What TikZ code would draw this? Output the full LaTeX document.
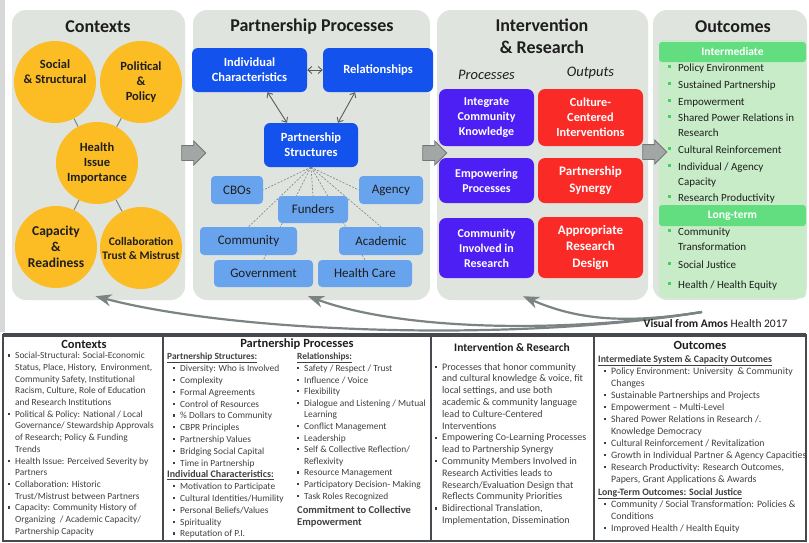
\documentclass[tikz,border=0pt]{standalone}
\usepackage{fontspec}
\setmainfont{Carlito}
\usepackage{xcolor}
\usetikzlibrary{calc}
\usetikzlibrary{positioning}
\usetikzlibrary{arrows.meta}
\usetikzlibrary{shapes.arrows}
\definecolor{custom-panel}{RGB}{224, 228, 223}
\definecolor{custom-strip}{RGB}{215, 217, 216}
\definecolor{custom-orange}{RGB}{251, 188, 36}
\definecolor{custom-blue}{RGB}{19, 82, 236}
\definecolor{custom-lightblue}{RGB}{104, 163, 238}
\definecolor{custom-purple}{RGB}{77, 31, 245}
\definecolor{custom-red}{RGB}{250, 42, 38}
\definecolor{custom-green}{RGB}{98, 222, 128}
\definecolor{custom-lightgreen}{RGB}{199, 236, 199}
\definecolor{custom-bullet}{RGB}{70, 205, 100}
\definecolor{custom-grey}{RGB}{124, 132, 131}
\definecolor{custom-text}{RGB}{30, 30, 30}
\definecolor{custom-arrowfill}{RGB}{162, 167, 165}
\definecolor{custom-arrowdraw}{RGB}{115, 120, 118}
\definecolor{custom-frame}{RGB}{70, 74, 78}

\pgfdeclarelayer{panels}
\pgfdeclarelayer{edges}
\pgfsetlayers{panels,edges,main}

\newcommand{\lbul}{\makebox[7pt][l]{\raisebox{2.2pt}{\rule{2.2pt}{2.2pt}}}}
\newcommand{\lcnt}{\hspace*{7pt}}
\newcommand{\obul}{\makebox[10pt][l]{\textcolor{custom-bullet}{\raisebox{4pt}{\rule{3pt}{3pt}}}}}
\newcommand{\ocnt}{\hspace*{10pt}}

\tikzset{
  panel/.style={fill=custom-panel, rounded corners=14pt, inner sep=0pt},
  greenarea/.style={fill=custom-lightgreen, rounded corners=4pt, inner sep=0pt},
  paneltitle/.style={font=\fontsize{18}{22}\selectfont\bfseries, text=custom-text, align=center},
  ctxcircle/.style={circle, fill=custom-orange, minimum size=82pt, inner sep=0pt, align=center,
    text=custom-text, font=\fontsize{12.5}{15}\selectfont\bfseries},
  ppbox/.style={fill=custom-blue, rounded corners=6pt, inner sep=0pt, align=center, text=white,
    font=\fontsize{12.5}{15}\selectfont\bfseries},
  membox/.style={fill=custom-lightblue, rounded corners=4pt, inner sep=0pt, text=custom-text,
    font=\fontsize{13}{15}\selectfont},
  procbox/.style={fill=custom-purple, rounded corners=7pt, inner sep=0pt, align=center, text=white,
    minimum width=95pt, font=\fontsize{12}{15}\selectfont\bfseries},
  outbox/.style={fill=custom-red, rounded corners=7pt, inner sep=0pt, align=center, text=white,
    minimum width=105pt, font=\fontsize{13}{16.5}\selectfont\bfseries},
  colhead/.style={font=\fontsize{14.5}{17}\selectfont\itshape, text=custom-text},
  ochead/.style={fill=custom-green, rounded corners=3pt, inner sep=0pt, text=white,
    minimum width=147pt, font=\fontsize{11.5}{14}\selectfont\bfseries},
  oclist/.style={anchor=north west, align=left, inner sep=0pt, text=custom-text,
    font=\fontsize{11}{15}\selectfont},
  biarrow/.style={{Straight Barb[length=4pt,width=7pt]}-{Straight Barb[length=4pt,width=7pt]},
    draw=custom-grey!70!black, line width=0.9pt},
  hubline/.style={draw=custom-grey, line width=0.6pt, dash pattern=on 2pt off 1.5pt},
  ctxline/.style={draw=custom-grey, line width=1pt},
  blockarrow/.style={single arrow, fill=custom-arrowfill, draw=custom-arrowdraw, line width=0.8pt,
    inner xsep=0pt, inner ysep=7pt, minimum height=24pt, single arrow head extend=4.5pt},
  fbarrow/.style={draw=custom-grey, line width=2.2pt,
    -{Stealth[length=16pt,width=12pt,inset=5pt]}},
  bottitle/.style={font=\fontsize{12.5}{14}\selectfont\bfseries, text=custom-text},
  botlist/.style={anchor=north west, align=left, inner sep=0pt, text=custom-text!85!white,
    font=\fontsize{9.4}{11.7}\selectfont}
}

\begin{document}
\begin{tikzpicture}[x=1pt,y=-1pt]
\useasboundingbox (0,0) rectangle (809,542);

% panels
\begin{pgfonlayer}{panels}
\fill[white] (0,0) rectangle (809,542);
\fill[custom-strip] (0,0) rectangle (5,332);
\node[panel, minimum width=173pt, minimum height=290pt] (ctxpanel) at (98.5,155) {};
\node[panel, minimum width=237pt, minimum height=290pt] (pppanel) at (311.5,155) {};
\node[panel, minimum width=211pt, minimum height=290pt] (irpanel) at (542.5,155) {};
\node[panel, minimum width=154pt, minimum height=290pt] (ocpanel) at (730,155) {};
\node[greenarea, minimum width=147pt, minimum height=258pt] (ocarea) at (732.5,169) {};
\end{pgfonlayer}

\node[paneltitle] (ctxtitle) at (98,27) {Contexts};
\node[paneltitle] (pptitle) at (312,27) {Partnership Processes};
\node[paneltitle] (irtitle) at (542,36) {Intervention\\\& Research};
\node[paneltitle] (octitle) at (733,27) {Outcomes};

% contexts
\node[ctxcircle] (ss) at (55,82) {Social\\\& Structural\\[6pt]};
\node[ctxcircle] (pp) at (141,82) {Political\\\&\\Policy};
\node[ctxcircle] (hi) at (97,163) {Health\\Issue\\Importance};
\node[ctxcircle, font=\fontsize{13.5}{16}\selectfont\bfseries] (cr) at (56,247) {Capacity\\\&\\Readiness};
\node[ctxcircle, font=\fontsize{11.5}{14}\selectfont\bfseries] (ct) at (141,248) {Collaboration\\Trust \& Mistrust};
\begin{pgfonlayer}{edges}
\foreach \c in {ss,pp,cr,ct}
  \draw[ctxline] (hi) -- (\c);
\end{pgfonlayer}

\node[blockarrow] (arr1) at (190,153) {};
\node[blockarrow] (arr2) at (431,153) {};
\node[blockarrow] (arr3) at (651,152) {};

% partnership processes
\node[ppbox, minimum width=115pt, minimum height=44pt] (ic) at (249.5,70) {Individual\\Characteristics};
\node[ppbox, minimum width=110pt, minimum height=44pt] (rel) at (378,70) {Relationships};
\node[ppbox, minimum width=94pt, minimum height=44pt] (ps) at (311,145) {Partnership\\Structures};
\draw[biarrow] (ic.east) -- (rel.west);
\draw[biarrow] ([xshift=18pt]ic.south) -- ([xshift=-24pt]ps.north);
\draw[biarrow] ([xshift=-23pt]rel.south) -- ([xshift=27pt]ps.north);

\node[membox, minimum width=52pt, minimum height=28pt] (cbo) at (237,190) {CBOs};
\node[membox, minimum width=64pt, minimum height=28pt] (agency) at (391,190) {Agency};
\node[membox, minimum width=70pt, minimum height=27pt] (funders) at (313,209.5) {Funders};
\node[membox, minimum width=97pt, minimum height=28pt] (community) at (248.5,241) {Community};
\node[membox, minimum width=84pt, minimum height=28pt] (academic) at (381,241) {Academic};
\node[membox, minimum width=99pt, minimum height=27pt] (government) at (263.5,273.5) {Government};
\node[membox, minimum width=94pt, minimum height=27pt] (healthcare) at (365,273.5) {Health Care};
\begin{pgfonlayer}{edges}
\draw[hubline] (ps.south) -- (cbo.east);
\draw[hubline] (ps.south) -- (community.north);
\draw[hubline] (ps.south) -- (government.north);
\draw[hubline] (ps.south) -- (funders.north);
\draw[hubline] (ps.south) -- (healthcare.north);
\draw[hubline] (ps.south) -- (academic.north);
\draw[hubline] (ps.south) -- (agency.west);
\end{pgfonlayer}

% intervention and research
\node[procbox, minimum height=57pt] (p1) at (486.5,117.5) {Integrate\\Community\\Knowledge};
\node[procbox, minimum height=45pt] (p2) at (486.5,180.5) {Empowering\\Processes};
\node[procbox, minimum height=60pt] (p3) at (486.5,248) {Community\\Involved in\\Research};
\node[outbox, minimum height=57pt, font=\fontsize{12.3}{15}\selectfont\bfseries] (o1) at (590.5,117.5) {Culture-\\Centered\\Interventions};
\node[outbox, minimum height=45pt] (o2) at (590.5,180.5) {Partnership\\Synergy};
\node[outbox, minimum height=61pt] (o3) at (590.5,247.5) {Appropriate\\Research\\Design};
\node[colhead, above=6pt of p1] (proclabel) {Processes};
\node[colhead, above=6pt of o1] (outlabel) {Outputs};

% outcomes
\node[ochead, minimum height=20pt] (ocint) at (732.5,52) {Intermediate};
\node[oclist] (intlist) at (668,64) {\obul Policy Environment\\[2pt]
\obul Sustained Partnership\\[2pt]
\obul Empowerment\\[1pt]
\obul Shared Power Relations in\\
\ocnt Research\\[2pt]
\obul Cultural Reinforcement\\[2pt]
\obul Individual / Agency\\
\ocnt Capacity\\[1pt]
\obul Research Productivity};
\node[ochead, minimum height=21pt] (oclt) at (732.5,215.5) {Long-term};
\node[oclist] (ltlist) at (668,228) {\obul Community\\
\ocnt Transformation\\[3pt]
\obul Social Justice\\[5pt]
\obul Health / Health Equity};

% feedback
\coordinate (fb) at (702,312);
\draw[fbarrow] (fb) .. controls (520,342) and (240,334) .. ([xshift=-3pt,yshift=4pt]ctxpanel.south);
\draw[fbarrow] (fb) .. controls (560,334) and (400,330) .. ([xshift=-3.5pt,yshift=4pt]pppanel.south);
\draw[fbarrow] (fb) .. controls (625,324) and (578,320) .. ([xshift=-19.5pt,yshift=4pt]irpanel.south);
\node[anchor=east, font=\fontsize{11.5}{14}\selectfont, text=custom-text] (credit) at (791,323)
  {\textbf{Visual from Amos} Health 2017};

% key below
\draw[custom-frame, line width=1.5pt] (3,335) rectangle (806,541);
\draw[custom-frame, line width=3.5pt] (3,335) -- (806,335);
\foreach \x in {163,431,594}
  \draw[custom-frame, line width=2pt] (\x,337) -- (\x,541);

\node[bottitle] (ctxkey) at (84,344.5) {Contexts};
\node[bottitle] (ppkey) at (297,344.5) {Partnership Processes};
\node[bottitle, font=\fontsize{11.5}{13}\selectfont\bfseries] (irkey) at (512,347) {Intervention \& Research};
\node[bottitle] (ockey) at (700,345.5) {Outcomes};

\node[botlist] (ctxtext) at (8,352) {\lbul Social-Structural: Social-Economic\\
\lcnt Status, Place, History,\ \ Environment,\\
\lcnt Community Safety, Institutional\\
\lcnt Racism, Culture, Role of Education\\
\lcnt and Research Institutions\\
\lbul Political \& Policy: National / Local\\
\lcnt Governance/ Stewardship Approvals\\
\lcnt of Research; Policy \& Funding\\
\lcnt Trends\\
\lbul Health Issue: Perceived Severity by\\
\lcnt Partners\\
\lbul Collaboration: Historic\\
\lcnt Trust/Mistrust between Partners\\
\lbul Capacity: Community History of\\
\lcnt Organizing\ \ / Academic Capacity/\\
\lcnt Partnership Capacity};

\node[botlist, font=\fontsize{9.4}{11.8}\selectfont] (pstext) at (167,353) {\underline{\textbf{Partnership Structures:}}\\
\hspace*{6pt}\lbul Diversity: Who is Involved\\
\hspace*{6pt}\lbul Complexity\\
\hspace*{6pt}\lbul Formal Agreements\\
\hspace*{6pt}\lbul Control of Resources\\
\hspace*{6pt}\lbul \% Dollars to Community\\
\hspace*{6pt}\lbul CBPR Principles\\
\hspace*{6pt}\lbul Partnership Values\\
\hspace*{6pt}\lbul Bridging Social Capital\\
\hspace*{6pt}\lbul Time in Partnership\\
{\fontsize{10}{11.8}\selectfont\underline{\textbf{Individual Characteristics:}}}\\
\hspace*{6pt}\lbul Motivation to Participate\\
\hspace*{6pt}\lbul Cultural Identities/Humility\\
\hspace*{6pt}\lbul Personal Beliefs/Values\\
\hspace*{6pt}\lbul Spirituality\\
\hspace*{6pt}\lbul Reputation of P.I.};

\node[botlist, font=\fontsize{9.4}{11.6}\selectfont] (reltext) at (297,353) {\underline{\textbf{Relationships:}}\\
\lbul Safety / Respect / Trust\\
\lbul Influence / Voice\\
\lbul Flexibility\\
\lbul Dialogue and Listening / Mutual\\
\lcnt Learning\\
\lbul Conflict Management\\
\lbul Leadership\\
\lbul Self \& Collective Reflection/\\
\lcnt Reflexivity\\
\lbul Resource Management\\
\lbul Participatory Decision- Making\\
\lbul Task Roles Recognized\\[3pt]
{\fontsize{10.5}{12}\selectfont\bfseries Commitment to Collective}\\
{\fontsize{10.5}{12}\selectfont\bfseries Empowerment}};

\node[botlist, font=\fontsize{10}{11.8}\selectfont] (irtext) at (435,363) {\lbul Processes that honor community\\
\lcnt and cultural knowledge \& voice, fit\\
\lcnt local settings, and use both\\
\lcnt academic \& community language\\
\lcnt lead to Culture-Centered\\
\lcnt Interventions\\
\lbul Empowering Co-Learning Processes\\
\lcnt lead to Partnership Synergy\\
\lbul Community Members Involved in\\
\lcnt Research Activities leads to\\
\lcnt Research/Evaluation Design that\\
\lcnt Reflects Community Priorities\\
\lbul Bidirectional Translation,\\
\lcnt Implementation, Dissemination};

\node[botlist, font=\fontsize{9.8}{12}\selectfont] (octext) at (598,355) {\underline{\textbf{Intermediate System \& Capacity Outcomes}}\\
\hspace*{6pt}\lbul Policy Environment: University\ \ \& Community\\
\hspace*{6pt}\lcnt Changes\\
\hspace*{6pt}\lbul Sustainable Partnerships and Projects\\
\hspace*{6pt}\lbul Empowerment -- Multi-Level\\
\hspace*{6pt}\lbul Shared Power Relations in Research /.\\
\hspace*{6pt}\lcnt Knowledge Democracy\\
\hspace*{6pt}\lbul Cultural Reinforcement / Revitalization\\
\hspace*{6pt}\lbul Growth in Individual Partner \& Agency Capacities\\
\hspace*{6pt}\lbul Research Productivity: Research Outcomes,\\
\hspace*{6pt}\lcnt Papers, Grant Applications \& Awards\\[1.5pt]
\underline{\textbf{Long-Term Outcomes: Social Justice}}\\
\hspace*{6pt}\lbul Community / Social Transformation: Policies \&\\
\hspace*{6pt}\lcnt Conditions\\
\hspace*{6pt}\lbul Improved Health / Health Equity};

\end{tikzpicture}
\end{document}
